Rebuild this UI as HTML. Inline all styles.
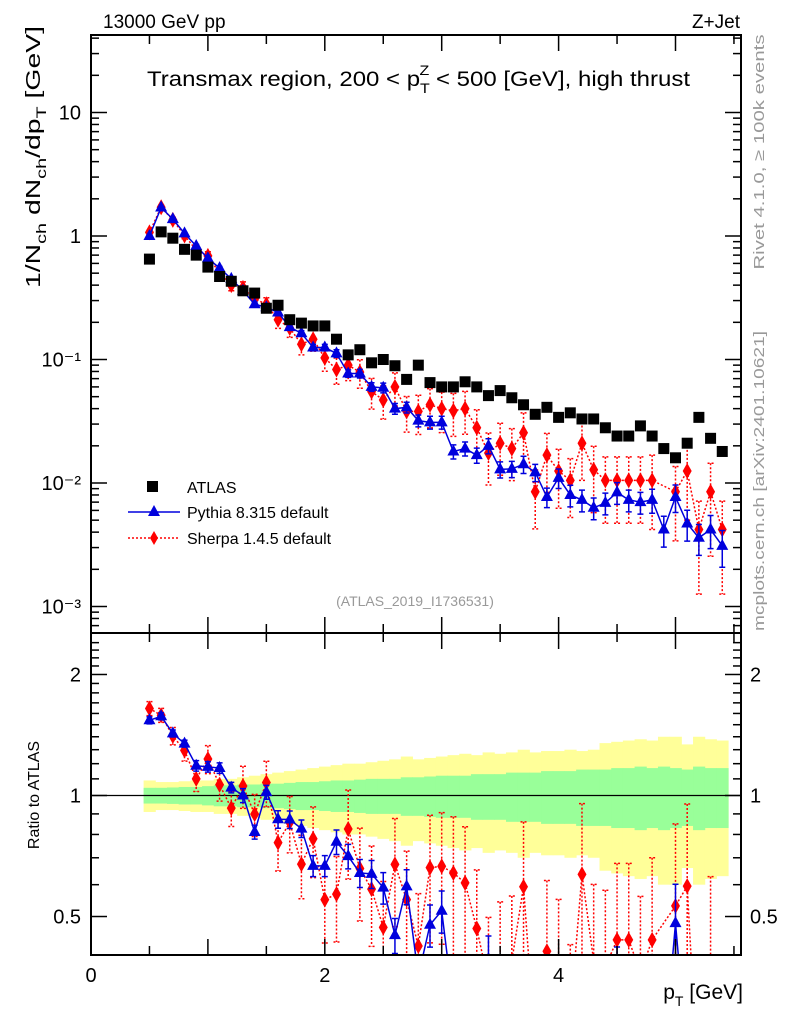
<!DOCTYPE html>
<html><head><meta charset="utf-8"><style>
html,body{margin:0;padding:0;background:#fff;overflow:hidden;width:786px;height:1024px;}
svg{display:block;font-family:"Liberation Sans",sans-serif;}
</style></head><body>
<svg id="c" width="786" height="1024" viewBox="0 0 786 1024">
<text x="103" y="28" font-size="19">13000 GeV pp</text>
<text x="740" y="28" font-size="19" text-anchor="end">Z+Jet</text>
<text x="147" y="86" font-size="21" textLength="543" lengthAdjust="spacingAndGlyphs">Transmax region, 200 &lt; p<tspan dy="7" font-size="14">T</tspan><tspan dx="-9" dy="-18" font-size="14">Z</tspan><tspan dy="11"> &lt; 500 [GeV], high thrust</tspan></text>
<text transform="translate(40,157) rotate(-90)" font-size="20" text-anchor="middle" textLength="262" lengthAdjust="spacingAndGlyphs">1/N<tspan font-size="14" dy="6">ch</tspan><tspan dy="-6"> dN</tspan><tspan font-size="14" dy="6">ch</tspan><tspan dy="-6">/dp</tspan><tspan font-size="14" dy="6">T</tspan><tspan dy="-6"> [GeV]</tspan></text>
<text transform="translate(764,152) rotate(-90)" font-size="15" fill="#999" text-anchor="middle" textLength="235" lengthAdjust="spacingAndGlyphs">Rivet 4.1.0, ≥ 100k events</text>
<text transform="translate(764,481) rotate(-90)" font-size="15" fill="#999" text-anchor="middle" textLength="300" lengthAdjust="spacingAndGlyphs">mcplots.cern.ch [arXiv:2401.10621]</text>
<text x="415" y="606" font-size="14" fill="#999" text-anchor="middle">(ATLAS_2019_I1736531)</text>
<text transform="translate(39,795) rotate(-90)" font-size="16" text-anchor="middle">Ratio to ATLAS</text>
<text x="743" y="999" font-size="21" text-anchor="end">p<tspan font-size="14" dy="7">T</tspan><tspan dy="-7"> [GeV]</tspan></text>
<g id="bands"></g><g id="marks"></g><g id="axes"></g>
<g>
<rect x="147" y="481" width="11" height="11" fill="#000"/>
<text x="187" y="493" font-size="16">ATLAS</text>
<line x1="128" y1="512" x2="180" y2="512" stroke="#0000dd" stroke-width="1.5"/>
<polygon points="154,505 160,516 148,516" fill="#0000dd"/>
<text x="187" y="518" font-size="16">Pythia 8.315 default</text>
<line x1="128" y1="538" x2="180" y2="538" stroke="#f00" stroke-width="1.5" stroke-dasharray="2,2"/>
<polygon points="154,531 158,538 154,545 150,538" fill="#f00"/>
<text x="187" y="544" font-size="16">Sherpa 1.4.5 default</text>
</g>
</svg>
<script>
const xCenters=[0.5,0.6,0.7,0.8,0.9,1.0,1.1,1.2,1.3,1.4,1.5,1.6,1.7,1.8,1.9,2.0,2.1,2.2,2.3,2.4,2.5,2.6,2.7,2.8,2.9,3.0,3.1,3.2,3.3,3.4,3.5,3.6,3.7,3.8,3.9,4.0,4.1,4.2,4.3,4.4,4.5,4.6,4.7,4.8,4.9,5.0,5.1,5.2,5.3,5.4];
const atlasVals=[0.65,1.08,0.96,0.78,0.70,0.56,0.47,0.43,0.36,0.345,0.26,0.275,0.21,0.197,0.187,0.187,0.146,0.109,0.12,0.094,0.10,0.089,0.069,0.09,0.065,0.060,0.060,0.066,0.060,0.051,0.056,0.049,0.043,0.036,0.041,0.034,0.037,0.033,0.033,0.028,0.024,0.024,0.029,0.024,0.019,0.016,0.021,0.034,0.023,0.018];
const atlasStat=[0.045,0.045,0.047,0.05,0.05,0.055,0.06,0.06,0.065,0.065,0.07,0.07,0.075,0.08,0.08,0.085,0.09,0.09,0.095,0.1,0.1,0.1,0.11,0.11,0.115,0.12,0.12,0.12,0.13,0.13,0.13,0.14,0.14,0.14,0.15,0.15,0.15,0.16,0.16,0.16,0.17,0.17,0.18,0.17,0.18,0.17,0.16,0.18,0.17,0.17];
const atlasTot=[0.09,0.08,0.08,0.085,0.09,0.09,0.1,0.1,0.11,0.12,0.13,0.14,0.15,0.16,0.17,0.18,0.19,0.2,0.2,0.21,0.22,0.23,0.25,0.23,0.24,0.25,0.26,0.27,0.26,0.28,0.27,0.28,0.3,0.28,0.29,0.29,0.3,0.29,0.3,0.35,0.36,0.37,0.38,0.37,0.4,0.4,0.34,0.4,0.38,0.37];
const pythiaVals=[1.0,1.7,1.37,1.05,0.83,0.66,0.55,0.45,0.36,0.28,0.265,0.24,0.183,0.163,0.125,0.125,0.112,0.077,0.077,0.06,0.059,0.040,0.041,0.032,0.031,0.031,0.018,0.019,0.0168,0.020,0.0129,0.013,0.0142,0.0122,0.0077,0.011,0.0080,0.0073,0.0063,0.0069,0.0084,0.0073,0.0070,0.0073,0.0042,0.0077,0.0047,0.0036,0.0042,0.0031];
const pythiaErr=[0.02,0.02,0.02,0.02,0.03,0.03,0.03,0.03,0.04,0.04,0.04,0.05,0.05,0.05,0.06,0.06,0.07,0.07,0.08,0.08,0.09,0.1,0.1,0.11,0.12,0.12,0.13,0.13,0.14,0.14,0.15,0.15,0.16,0.16,0.18,0.18,0.2,0.2,0.2,0.2,0.2,0.2,0.2,0.22,0.28,0.25,0.28,0.28,0.3,0.33];
const sherpaVals=[1.07,1.71,1.35,1.01,0.77,0.69,0.50,0.40,0.38,0.31,0.28,0.21,0.18,0.133,0.146,0.103,0.083,0.09,0.079,0.055,0.047,0.060,0.038,0.038,0.043,0.040,0.0385,0.040,0.028,0.0175,0.021,0.019,0.0255,0.0085,0.0168,0.0125,0.0105,0.021,0.0128,0.0105,0.0105,0.0105,0.0105,0.0105,null,0.0085,0.0125,0.0042,0.0085,0.0042];
const sherpaErr=[0.04,0.04,0.05,0.06,0.07,0.08,0.09,0.1,0.12,0.12,0.13,0.15,0.16,0.18,0.2,0.22,0.24,0.25,0.26,0.28,0.3,0.3,0.32,0.35,0.35,0.36,0.38,0.38,0.4,0.45,0.45,0.45,0.45,0.5,0.5,0.5,0.5,0.5,0.55,0.55,0.55,0.55,0.55,0.6,0.6,0.6,0.6,0.7,0.7,0.7];
const xTickVals=[0,2,4];
const yTickVals=[10,1,0.1,0.01,0.001];
const yTickLabels=["10","1","10⁻¹","10⁻²","10⁻³"];
const rTickVals=[2,1,0.5];
const rTickLabels=["2","1","0.5"];

const NS="http://www.w3.org/2000/svg";
const L=91,R=741,T=35,MB=633,RB=955;
const X=v=>L+v*116.9;
const Y=v=>236-Math.log10(v)*123.5;
const RY=v=>795.5-Math.log10(v)*402;
const RMIN=0.4,RMAX=2.54;
function mk(tag,attrs,parent){const e=document.createElementNS(NS,tag);for(const k in attrs)e.setAttribute(k,attrs[k]);parent.appendChild(e);return e;}
const bands=document.getElementById('bands'),marks=document.getElementById('marks'),axes=document.getElementById('axes');
const hw=0.05;
xCenters.forEach((x,i)=>{
  const y1=RY(1+atlasTot[i]),y2=RY(Math.max(1-atlasTot[i],RMIN));
  const r=mk('rect',{x:X(x-hw),y:y1,width:X(x+hw)-X(x-hw)+0.5,height:y2-y1,fill:'#ffff99'},bands);
  
  
});
xCenters.forEach((x,i)=>{
  const y1=RY(1+atlasStat[i]),y2=RY(1-atlasStat[i]);
  const r=mk('rect',{x:X(x-hw),y:y1,width:X(x+hw)-X(x-hw)+0.5,height:y2-y1,fill:'#99ff99'},bands);
  
  
});
mk('line',{x1:L,x2:R,y1:RY(1),y2:RY(1),stroke:'#000','stroke-width':1.2},bands);
const defs=mk('defs',{},marks);
const cp=mk('clipPath',{id:'cr'},defs);mk('rect',{x:L,y:MB,width:R-L,height:RB-MB},cp);
const cm=mk('clipPath',{id:'cm'},defs);mk('rect',{x:L,y:T,width:R-L,height:MB-T},cm);
const gm=mk('g',{'clip-path':'url(#cm)'},marks),gr=mk('g',{'clip-path':'url(#cr)'},marks);
function series(vals,errs,color,dash,shape,name,g,yf,ratio){
  let pts=[];
  vals.forEach((v,i)=>{
    if(v==null)return;
    let val=ratio?v/atlasVals[i]:v;
    const x=X(xCenters[i]),y=yf(val);
    pts.push([x,y]);
    const lo=Math.max(val*(1-errs[i]),ratio?0.3:1e-4),hi=val*(1+errs[i]);
    const eb=mk('path',{d:`M${x},${yf(hi)}V${yf(lo)}M${x-3},${yf(hi)}h6M${x-3},${yf(lo)}h6`,stroke:color,'stroke-width':1.5,'stroke-dasharray':dash,fill:'none'},g);
    
    
  });
  const ln=mk('polyline',{points:pts.map(p=>[p[0],Math.min(p[1],1100)].join(',')).join(' '),fill:'none',stroke:color,'stroke-width':1.5,'stroke-dasharray':dash},g);
  
  
  pts.forEach(([x,y])=>{
    if(y>1100)return;
    let p;
    if(shape==='tri')p=mk('polygon',{points:`${x},${y-7} ${x+6},${y+4} ${x-6},${y+4}`,fill:color},g);
    else p=mk('polygon',{points:`${x},${y-8} ${x+4.5},${y} ${x},${y+8} ${x-4.5},${y}`,fill:color},g);
    
    
  });
}
series(sherpaVals,sherpaErr,'#ff0000','2,2','dia','sherpa',gm,Y,false);
series(pythiaVals,pythiaErr,'#0000dd','','tri','pythia',gm,Y,false);
atlasVals.forEach((v,i)=>{
  const s=mk('rect',{x:X(xCenters[i])-5.5,y:Y(v)-5.5,width:11,height:11,fill:'#000'},gm);
  
  
});
series(sherpaVals,sherpaErr,'#ff0000','2,2','dia','sherpa-ratio',gr,RY,true);
series(pythiaVals,pythiaErr,'#0000dd','','tri','pythia-ratio',gr,RY,true);
mk('rect',{x:L,y:T,width:R-L,height:MB-T,fill:'none',stroke:'#000','stroke-width':2},axes);
mk('rect',{x:L,y:MB,width:R-L,height:RB-MB,fill:'none',stroke:'#000','stroke-width':2},axes);
for(let v=0;v<=5.5;v+=0.5){
  const x=X(v),big=Math.abs(v-Math.round(v))<1e-6;const len=big?16:9;
  [[T,1],[MB,-1],[MB,1],[RB,-1]].forEach(([y,d])=>mk('line',{x1:x,x2:x,y1:y,y2:y+d*len,stroke:'#000','stroke-width':1.5},axes));
}
xTickVals.forEach(v=>{const t=mk('text',{x:X(v),y:982,'font-size':20,'text-anchor':'middle'},axes);t.textContent=v;
  
  });
for(let e=-4;e<=1;e++)for(let m=1;m<10;m++){
  const v=m*Math.pow(10,e);const y=Y(v);if(y<T||y>MB)continue;const len=m===1?16:8;
  mk('line',{x1:L,x2:L+len,y1:y,y2:y,stroke:'#000','stroke-width':1.5},axes);
  mk('line',{x1:R,x2:R-len,y1:y,y2:y,stroke:'#000','stroke-width':1.5},axes);
}
yTickVals.forEach((v,i)=>{const t=mk('text',{x:81,y:Y(v)+7,'font-size':20,'text-anchor':'end'},axes);t.textContent=yTickLabels[i];
  
  });
for(let v=0.4;v<=2.5;v+=0.1){
  const y=RY(v);if(y<MB||y>RB)continue;const big=[0.5,1,2].some(q=>Math.abs(q-v)<1e-6);const len=big?16:8;
  mk('line',{x1:L,x2:L+len,y1:y,y2:y,stroke:'#000','stroke-width':1.5},axes);
  mk('line',{x1:R,x2:R-len,y1:y,y2:y,stroke:'#000','stroke-width':1.5},axes);
}
rTickVals.forEach((v,i)=>{
  const t=mk('text',{x:81,y:RY(v)+7,'font-size':20,'text-anchor':'end'},axes);t.textContent=rTickLabels[i];
  
  
  const t2=mk('text',{x:750,y:RY(v)+7,'font-size':20},axes);t2.textContent=rTickLabels[i];
  
  
});
</script>
</body></html>
